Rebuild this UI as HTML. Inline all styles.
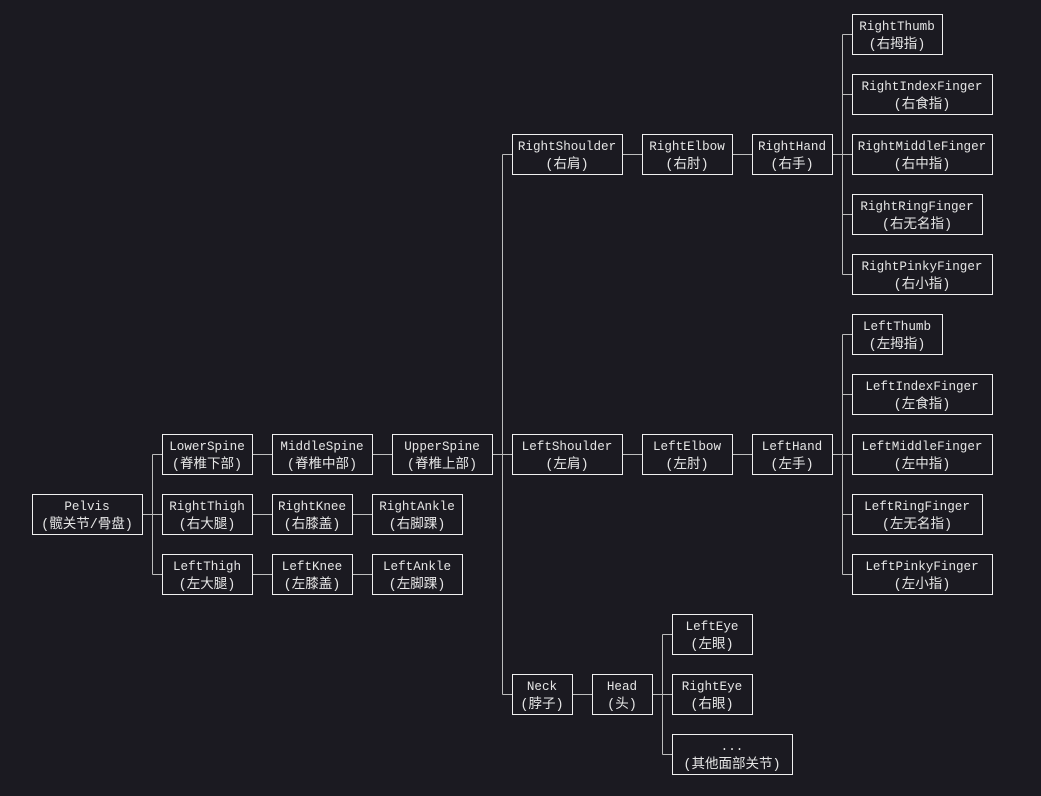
<!DOCTYPE html>
<html><head><meta charset="utf-8"><style>
html,body{margin:0;padding:0;background:#1b1a21;}
svg{display:block}
text{font-family:"Liberation Mono","Noto Sans CJK SC",monospace;font-size:12.6px;fill:#e6e6e6;text-anchor:middle}
text.c{font-size:13.5px}
rect{fill:none;stroke:#f0f0f0;stroke-width:1}
path{fill:none;stroke:#bdbdbd;stroke-width:1}
</style></head><body>
<svg width="1041" height="796" viewBox="0 0 1041 796">
<path d="M142.5,514.5H152.5M152.5,454.5V574.5M152.5,454.5H162.5M152.5,514.5H162.5M152.5,574.5H162.5"/>
<path d="M252.5,454.5H272.5M372.5,454.5H392.5M252.5,514.5H272.5M352.5,514.5H372.5M252.5,574.5H272.5M352.5,574.5H372.5"/>
<path d="M492.5,454.5H502.5M502.5,154.5V694.5M502.5,154.5H512.5M502.5,454.5H512.5M502.5,694.5H512.5"/>
<path d="M622.5,154.5H642.5M732.5,154.5H752.5M622.5,454.5H642.5M732.5,454.5H752.5"/>
<path d="M832.5,154.5H842.5M842.5,34.5V274.5M842.5,34.5H852.5M842.5,94.5H852.5M842.5,154.5H852.5M842.5,214.5H852.5M842.5,274.5H852.5"/>
<path d="M832.5,454.5H842.5M842.5,334.5V574.5M842.5,334.5H852.5M842.5,394.5H852.5M842.5,454.5H852.5M842.5,514.5H852.5M842.5,574.5H852.5"/>
<path d="M572.5,694.5H592.5M652.5,694.5H662.5M662.5,634.5V754.5M662.5,634.5H672.5M662.5,694.5H672.5M662.5,754.5H672.5"/>
<g>
<rect x="32.5" y="494.5" width="110" height="40"/><text x="87" y="510">Pelvis</text><text class="c" x="87" y="528">(髋关节/骨盘)</text>
<rect x="162.5" y="434.5" width="90" height="40"/><text x="207" y="450">LowerSpine</text><text class="c" x="207" y="468">(脊椎下部)</text>
<rect x="162.5" y="494.5" width="90" height="40"/><text x="207" y="510">RightThigh</text><text class="c" x="207" y="528">(右大腿)</text>
<rect x="162.5" y="554.5" width="90" height="40"/><text x="207" y="570">LeftThigh</text><text class="c" x="207" y="588">(左大腿)</text>
<rect x="272.5" y="434.5" width="100" height="40"/><text x="322" y="450">MiddleSpine</text><text class="c" x="322" y="468">(脊椎中部)</text>
<rect x="392.5" y="434.5" width="100" height="40"/><text x="442" y="450">UpperSpine</text><text class="c" x="442" y="468">(脊椎上部)</text>
<rect x="272.5" y="494.5" width="80" height="40"/><text x="312" y="510">RightKnee</text><text class="c" x="312" y="528">(右膝盖)</text>
<rect x="372.5" y="494.5" width="90" height="40"/><text x="417" y="510">RightAnkle</text><text class="c" x="417" y="528">(右脚踝)</text>
<rect x="272.5" y="554.5" width="80" height="40"/><text x="312" y="570">LeftKnee</text><text class="c" x="312" y="588">(左膝盖)</text>
<rect x="372.5" y="554.5" width="90" height="40"/><text x="417" y="570">LeftAnkle</text><text class="c" x="417" y="588">(左脚踝)</text>

<rect x="512.5" y="134.5" width="110" height="40"/><text x="567" y="150">RightShoulder</text><text class="c" x="567" y="168">(右肩)</text>
<rect x="642.5" y="134.5" width="90" height="40"/><text x="687" y="150">RightElbow</text><text class="c" x="687" y="168">(右肘)</text>
<rect x="752.5" y="134.5" width="80" height="40"/><text x="792" y="150">RightHand</text><text class="c" x="792" y="168">(右手)</text>
<rect x="852.5" y="14.5" width="90" height="40"/><text x="897" y="30">RightThumb</text><text class="c" x="897" y="48">(右拇指)</text>
<rect x="852.5" y="74.5" width="140" height="40"/><text x="922" y="90">RightIndexFinger</text><text class="c" x="922" y="108">(右食指)</text>
<rect x="852.5" y="134.5" width="140" height="40"/><text x="922" y="150">RightMiddleFinger</text><text class="c" x="922" y="168">(右中指)</text>
<rect x="852.5" y="194.5" width="130" height="40"/><text x="917" y="210">RightRingFinger</text><text class="c" x="917" y="228">(右无名指)</text>
<rect x="852.5" y="254.5" width="140" height="40"/><text x="922" y="270">RightPinkyFinger</text><text class="c" x="922" y="288">(右小指)</text>

<rect x="512.5" y="434.5" width="110" height="40"/><text x="567" y="450">LeftShoulder</text><text class="c" x="567" y="468">(左肩)</text>
<rect x="642.5" y="434.5" width="90" height="40"/><text x="687" y="450">LeftElbow</text><text class="c" x="687" y="468">(左肘)</text>
<rect x="752.5" y="434.5" width="80" height="40"/><text x="792" y="450">LeftHand</text><text class="c" x="792" y="468">(左手)</text>
<rect x="852.5" y="314.5" width="90" height="40"/><text x="897" y="330">LeftThumb</text><text class="c" x="897" y="348">(左拇指)</text>
<rect x="852.5" y="374.5" width="140" height="40"/><text x="922" y="390">LeftIndexFinger</text><text class="c" x="922" y="408">(左食指)</text>
<rect x="852.5" y="434.5" width="140" height="40"/><text x="922" y="450">LeftMiddleFinger</text><text class="c" x="922" y="468">(左中指)</text>
<rect x="852.5" y="494.5" width="130" height="40"/><text x="917" y="510">LeftRingFinger</text><text class="c" x="917" y="528">(左无名指)</text>
<rect x="852.5" y="554.5" width="140" height="40"/><text x="922" y="570">LeftPinkyFinger</text><text class="c" x="922" y="588">(左小指)</text>

<rect x="512.5" y="674.5" width="60" height="40"/><text x="542" y="690">Neck</text><text class="c" x="542" y="708">(脖子)</text>
<rect x="592.5" y="674.5" width="60" height="40"/><text x="622" y="690">Head</text><text class="c" x="622" y="708">(头)</text>
<rect x="672.5" y="614.5" width="80" height="40"/><text x="712" y="630">LeftEye</text><text class="c" x="712" y="648">(左眼)</text>
<rect x="672.5" y="674.5" width="80" height="40"/><text x="712" y="690">RightEye</text><text class="c" x="712" y="708">(右眼)</text>
<rect x="672.5" y="734.5" width="120" height="40"/><text x="732" y="750">...</text><text class="c" x="732" y="768">(其他面部关节)</text>
</g>
</svg>
</body></html>
